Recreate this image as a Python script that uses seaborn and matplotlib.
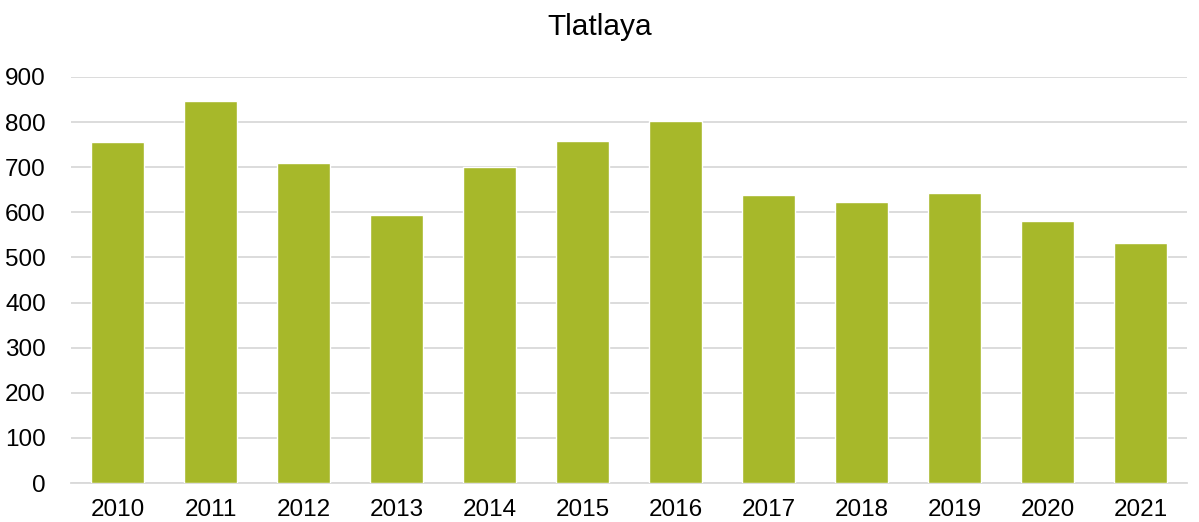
import matplotlib
matplotlib.use("Agg")
import matplotlib.pyplot as plt
import seaborn as sns
import pandas as pd

years = ["2010", "2011", "2012", "2013", "2014", "2015", "2016", "2017", "2018", "2019", "2020", "2021"]
values = [755, 847, 710, 593, 701, 758, 802, 638, 624, 642, 580, 532]
yticks = [0, 100, 200, 300, 400, 500, 600, 700, 800, 900]
title = "Tlatlaya"

sns.set_theme(style="white")
plt.rcParams['font.family'] = ['Liberation Sans', 'DejaVu Sans']

df = pd.DataFrame({"year": years, "value": values})

fig = plt.figure(figsize=(11.99, 5.22), dpi=100)
ax = fig.add_axes([0.0592, 0.0747, 0.9308, 0.7778])
sns.barplot(data=df, x="year", y="value", color="#A7B82A", saturation=1,
            width=0.57, ax=ax, zorder=3)
ax.set_ylim(0, 900)
ax.set_xlim(-0.5, len(years) - 0.5)
ax.set_yticks(yticks)
ax.set_yticklabels([str(t) for t in yticks], fontsize=17.5, color="#000000")
ax.tick_params(axis="x", labelsize=17.5, colors="#000000", length=0, pad=11.5)
ax.tick_params(axis="y", length=0, pad=18)
ax.yaxis.grid(True, color="#D9D9D9", linewidth=1.3, zorder=0)
ax.set_axisbelow(True)
for s in ["top", "right", "left"]:
    ax.spines[s].set_visible(False)
ax.spines["bottom"].set_color("#D9D9D9")
ax.spines["bottom"].set_linewidth(1.3)
ax.set_xlabel("")
ax.set_ylabel("")
fig.text(0.5, 0.949, title, ha="center", va="center", fontsize=21.5, color="#000000")
fig.savefig("out.png", dpi=100)
